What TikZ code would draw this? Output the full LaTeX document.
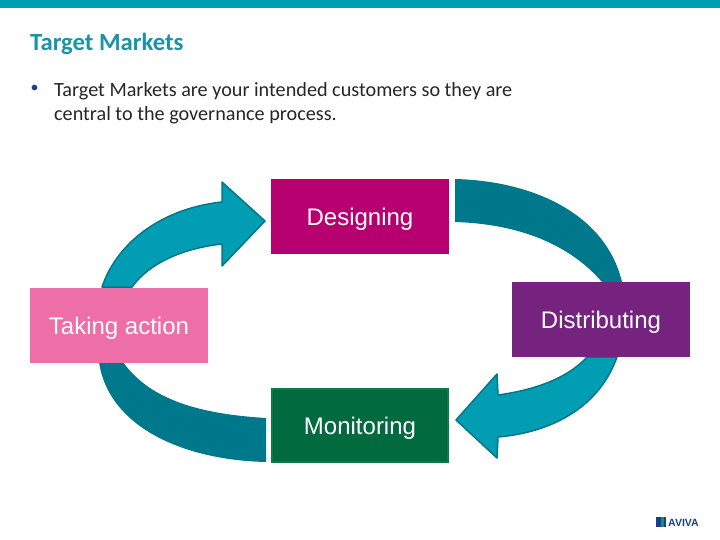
\documentclass[tikz,border=0pt]{standalone}
\usepackage{fontspec}
\setmainfont{Carlito}
\newfontfamily\boxfont{Liberation Sans}
\definecolor{barteal}{HTML}{009DB3}
\definecolor{darkteal}{HTML}{00788C}
\definecolor{titleteal}{HTML}{1A93A8}
\definecolor{designcol}{HTML}{B70070}
\definecolor{takecol}{HTML}{EE6FA8}
\definecolor{distcol}{HTML}{76237F}
\definecolor{moncol}{HTML}{026A3F}
\definecolor{monedge}{HTML}{0A7A4A}
\definecolor{logoblue}{HTML}{1B3E8C}
\definecolor{logogreen}{HTML}{1F8A6E}

\begin{document}
\begin{tikzpicture}
  [
    x=1pt,
    y=-1pt,
    stage/.style    = {minimum width = 178pt, minimum height = 75pt, inner sep = 0pt,
                       text height = 24pt, text depth = 6pt,
                       text = white, font = \boxfont\fontsize{24}{28}\selectfont},
    lightarrow/.style = {fill = barteal, draw = darkteal, line width = 1.5pt, line join = round},
    darkarrow/.style  = {fill = darkteal, draw = none},
    heading/.style  = {anchor = base west, inner sep = 0pt, text = titleteal,
                       font = \fontsize{24.7}{28}\selectfont\bfseries},
    body/.style     = {anchor = base west, inner sep = 0pt, text = black!85,
                       font = \fontsize{20.2}{24}\selectfont},
  ]

%Page size
\useasboundingbox (0,0) rectangle (720,540);

%Top bar
\fill[barteal] (0,0) rectangle (720,8);

%Title and bullet text
\node[heading] (title) at (30,50.5) {Target Markets};
\node[anchor = base west, inner sep = 0pt, text = logoblue, font = \fontsize{16}{24}\selectfont] (bullet) at (30.5,93) {•};
\node[body] (line1) at (54,97) {Target Markets are your intended customers so they are};
\node[body] (line2) at (54,121) {central to the governance process.};

%Arrows, light ones have a head
\draw[lightarrow] (102,287) .. controls (118,240) and (165,208) .. (222,202)
  -- (222,182) -- (265,221) -- (222,266) -- (222,244)
  .. controls (185,248) and (150,262) .. (132,287) -- cycle;
\draw[lightarrow] (617,357) .. controls (600,405) and (555,432) .. (498,437)
  -- (497,458) -- (456,420) -- (497,374) -- (498,395)
  .. controls (535,390) and (568,378) .. (587,357) -- cycle;

%Arrows without a head
\fill[darkarrow] (455,179) .. controls (535,181) and (606,215) .. (622,282)
  -- (602,282) .. controls (570,245) and (520,224) .. (455,222) -- cycle;
\fill[darkarrow] (99,362) .. controls (108,425) and (180,460) .. (266,462)
  -- (266,418) .. controls (200,414) and (150,400) .. (123,362) -- cycle;

%Boxes
\node[stage, fill = designcol] (designing) at (360,216.5) {Designing};
\node[stage, fill = takecol] (taking) at (119,325.5) {Taking action};
\node[stage, fill = distcol] (distributing) at (601,319.5) {Distributing};
\node[stage, fill = moncol, draw = monedge, line width = 2pt, minimum width = 176pt, minimum height = 73pt] (monitoring) at (360,425.5) {Monitoring};

%Logo
\fill[logoblue] (656,517) rectangle (666,527);
\fill[logogreen] (661,517) rectangle (663.5,527);
\node[anchor = base west, inner sep = 0pt, text = logoblue, font = \boxfont\fontsize{10.5}{11}\selectfont\bfseries] (aviva) at (668,526.5) {AVIVA};

%
\end{tikzpicture}
\end{document}
